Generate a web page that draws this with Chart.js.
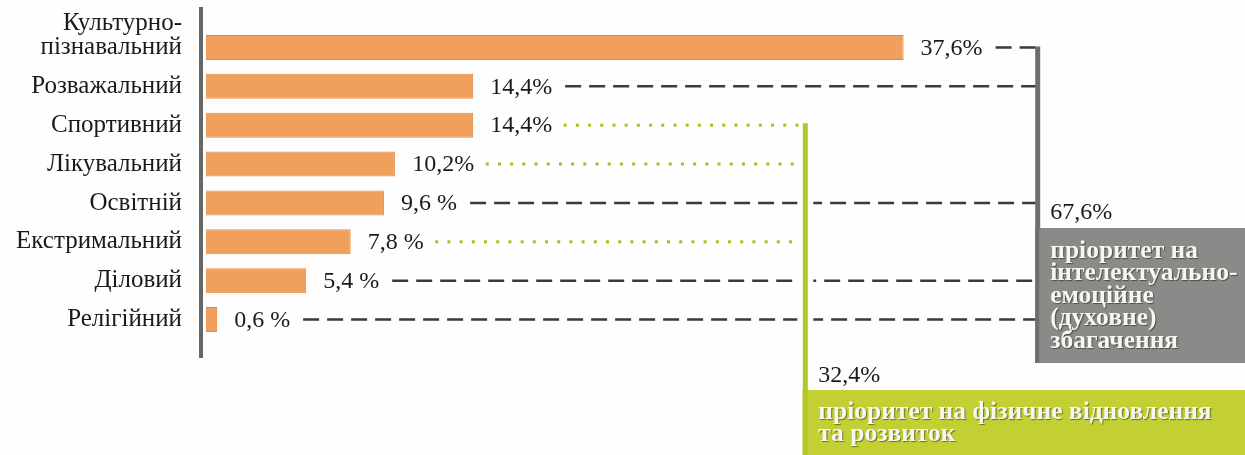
<!DOCTYPE html>
<html lang="uk">

<head>
    <meta charset="UTF-8" />
    <title>Пріоритети видів туризму</title>
    <script src="https://cdn.jsdelivr.net/npm/chart.js@4.4.0/dist/chart.umd.min.js"></script>
    <style>
        html,
        body {
            margin: 0;
            padding: 0;
            background-color: #fefefe;
        }

        .chart-wrapper {
            position: relative;
            width: 1245px;
            height: 455px;
        }
    </style>
</head>

<body>
    <div class="chart-wrapper">
        <canvas id="tourismChart"></canvas>
    </div>

    <script>
        // Види туризму (порожній рядок, щоб "пізнавальний" стояв навпроти смуги)
        const categories = [['Культурно-', 'пізнавальний', ''], 'Розважальний', 'Спортивний', 'Лікувальний',
            'Освітній', 'Екстримальний', 'Діловий', 'Релігійний'];
        const shares = [37.6, 14.4, 14.4, 10.2, 9.6, 7.8, 5.4, 0.6];
        const shareLabels = ['37,6%', '14,4%', '14,4%', '10,2%', '9,6 %', '7,8 %', '5,4 %', '0,6 %'];

        // 'spirit' — інтелектуально-емоційне, 'body' — фізичне відновлення
        const groups = ['spirit', 'spirit', 'body', 'body', 'spirit', 'body', 'spirit', 'spirit'];
        const spiritTitle = ['пріоритет на', 'інтелектуально-', 'емоційне', '(духовне)', 'збагачення'];
        const bodyTitle = ['пріоритет на фізичне відновлення', 'та розвиток'];

        // Положення дужок у значеннях осі x
        const bracketAt = { spirit: 44.8, body: 32.3 };

        const serif = '"Liberation Serif", "DejaVu Serif", serif';

        const groupTotal = g => shares.reduce((s, v, i) => groups[i] === g ? s + v : s, 0)
            .toFixed(1).replace('.', ',') + '%';

        const annotations = {
            id: 'annotations',
            afterDatasetsDraw(chart) {
                const { ctx, chartArea, scales } = chart;
                const bars = chart.getDatasetMeta(0).data;
                const xSpirit = scales.x.getPixelForValue(bracketAt.spirit);
                const xBody = scales.x.getPixelForValue(bracketAt.body);

                ctx.save();

                // вісь
                ctx.fillStyle = '#676767';
                ctx.fillRect(chartArea.left - 7, 7, 4, 351);

                // підписи значень
                ctx.font = '24px ' + serif;
                ctx.fillStyle = '#1a1a1a';
                ctx.textBaseline = 'middle';
                const lineStarts = [];
                bars.forEach((bar, i) => {
                    const tx = bar.x + 17;
                    ctx.fillText(shareLabels[i], tx, bar.y + 1);
                    lineStarts.push(tx + ctx.measureText(shareLabels[i]).width + 13);
                });

                // пунктир до сірої дужки
                ctx.strokeStyle = '#3a3a3a';
                ctx.lineWidth = 2.5;
                ctx.setLineDash([16, 8]);
                bars.forEach((bar, i) => {
                    if (groups[i] !== 'spirit') return;
                    ctx.beginPath();
                    ctx.moveTo(lineStarts[i], bar.y);
                    ctx.lineTo(xSpirit, bar.y);
                    ctx.stroke();
                });
                ctx.setLineDash([]);

                // зелена дужка
                const firstBody = bars[groups.indexOf('body')];
                ctx.fillStyle = '#fefefe';
                ctx.fillRect(xBody - 8, firstBody.y + 8, 16, 455);
                ctx.fillStyle = '#b3c625';
                ctx.fillRect(xBody - 2.5, firstBody.y - 2, 5, 455);

                // крапки до зеленої дужки
                ctx.fillStyle = '#a9bd22';
                bars.forEach((bar, i) => {
                    if (groups[i] !== 'body') return;
                    for (let x = lineStarts[i]; x < xBody - 3; x += 12.2) {
                        ctx.fillRect(x - 1.5, bar.y - 1.5, 3, 3);
                    }
                });

                // сіра дужка
                const firstSpirit = bars[groups.indexOf('spirit')];
                ctx.fillStyle = '#6e6e6e';
                ctx.fillRect(xSpirit - 2, firstSpirit.y - 1, 5, 230 - firstSpirit.y);

                // сірий блок
                ctx.fillStyle = '#8c8a88';
                ctx.fillRect(xSpirit - 2, 228, 1245, 135);
                ctx.fillStyle = '#6e6e6e';
                ctx.fillRect(xSpirit - 2, 228, 4, 135);

                // зелений блок
                ctx.fillStyle = '#c2d033';
                ctx.fillRect(xBody - 2.5, 390, 1245, 65);
                ctx.fillStyle = '#b3c625';
                ctx.fillRect(xBody - 2.5, 390, 5, 65);

                // суми груп
                ctx.font = '24px ' + serif;
                ctx.fillStyle = '#1a1a1a';
                ctx.fillText(groupTotal('spirit'), xSpirit + 13, 213);
                ctx.fillText(groupTotal('body'), xBody + 13, 376);

                // тексти в блоках
                ctx.font = 'bold 25.5px ' + serif;
                ctx.fillStyle = '#f7f7f2';
                ctx.shadowColor = 'rgba(0,0,0,0.45)';
                ctx.shadowOffsetX = 1;
                ctx.shadowOffsetY = 1;
                ctx.shadowBlur = 1;
                spiritTitle.forEach((line, i) => ctx.fillText(line, xSpirit + 13, 251 + i * 22.5));
                bodyTitle.forEach((line, i) => ctx.fillText(line, xBody + 13, 412 + i * 22));

                ctx.restore();
            }
        };

        document.addEventListener('DOMContentLoaded', () => {
            const ctx = document.getElementById('tourismChart').getContext('2d');

            new Chart(ctx, {
                type: 'bar',
                data: {
                    labels: categories,
                    datasets: [{
                        data: shares,
                        backgroundColor: '#f1a05c',
                        borderColor: '#df8b47',
                        borderWidth: 1,
                        barPercentage: 0.8,
                        categoryPercentage: 0.8
                    }]
                },
                options: {
                    indexAxis: 'y',
                    responsive: true,
                    maintainAspectRatio: false,
                    animation: false,
                    layout: {
                        padding: { top: 28, bottom: 116, left: 0, right: 0 }
                    },
                    plugins: {
                        legend: { display: false },
                        tooltip: { enabled: false }
                    },
                    scales: {
                        x: {
                            display: false,
                            min: 0,
                            max: 56
                        },
                        y: {
                            afterFit: scale => {
                                scale.width = 206;
                                scale.paddingTop = 0;
                                scale.paddingBottom = 0;
                            },
                            grid: { display: false },
                            border: { display: false },
                            ticks: {
                                autoSkip: false,
                                padding: 16,
                                color: '#1a1a1a',
                                font: { family: serif, size: 25, lineHeight: 0.96 }
                            }
                        }
                    }
                },
                plugins: [annotations]
            });
        });
    </script>
</body>

</html>
